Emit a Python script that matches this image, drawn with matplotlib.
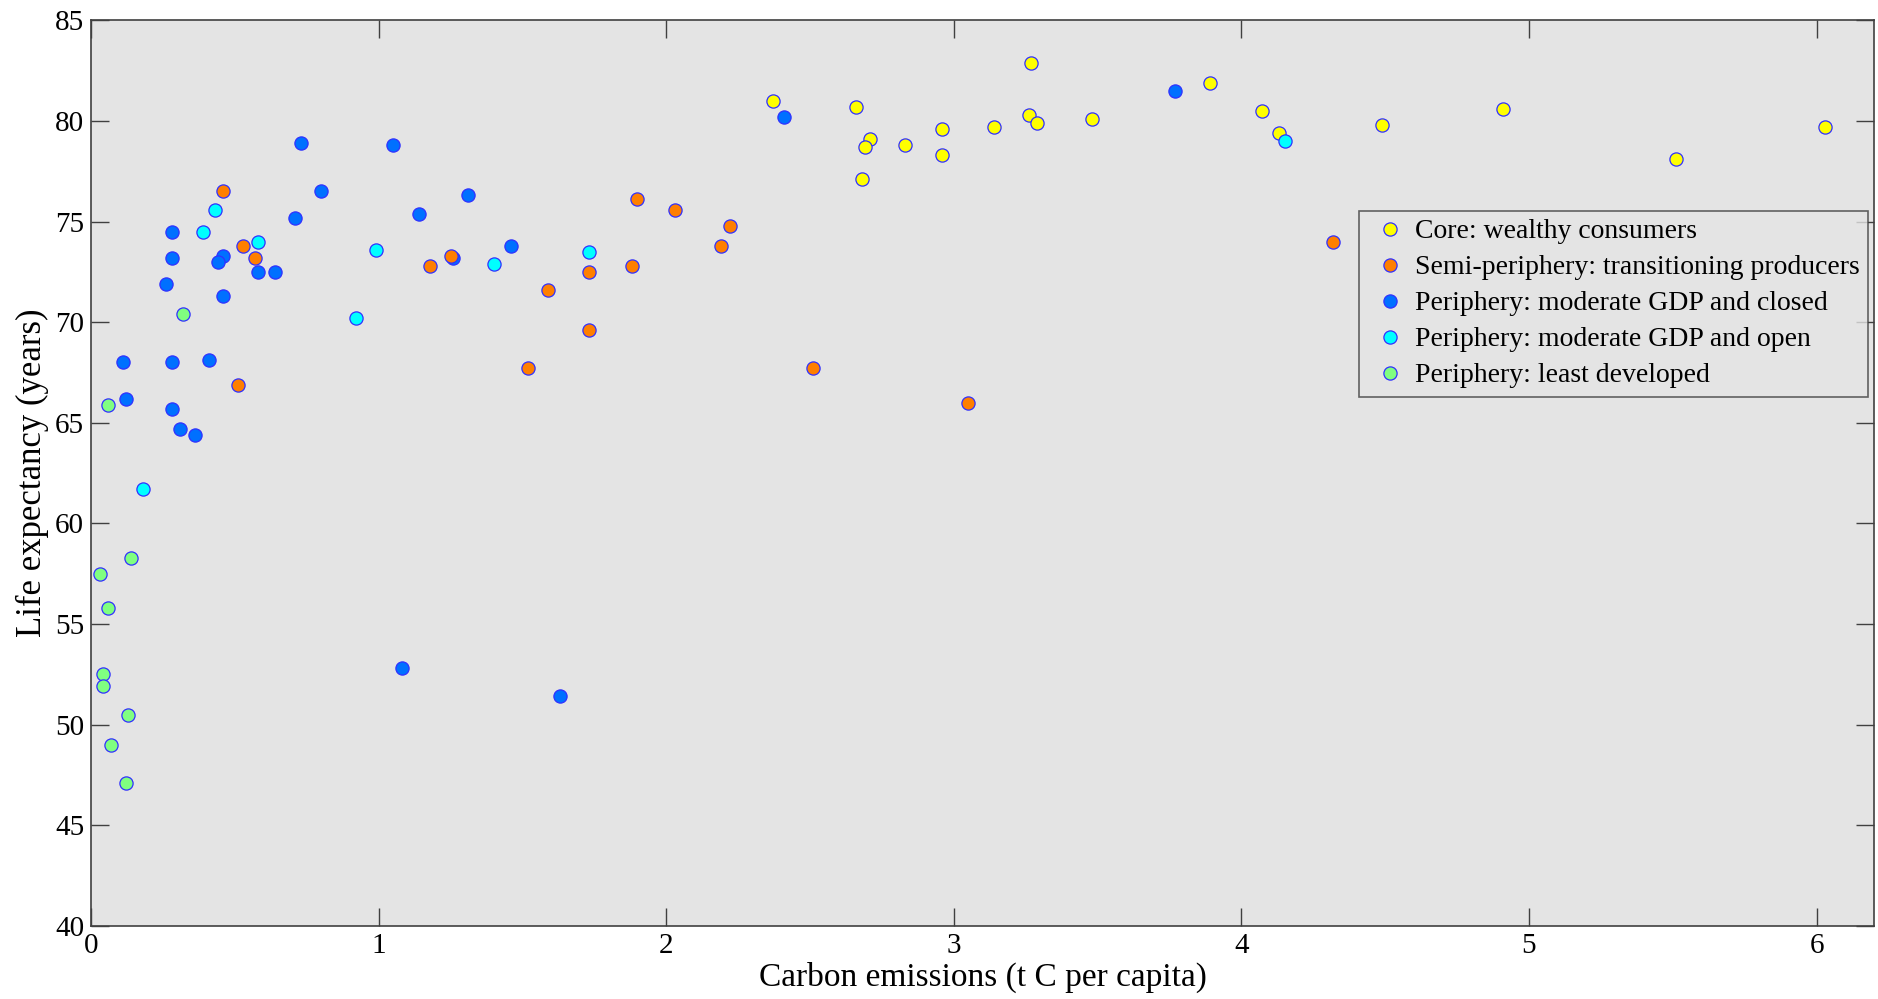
import matplotlib
matplotlib.use("Agg")
import matplotlib.pyplot as plt

plt.rcParams['font.family'] = ['Liberation Serif', 'DejaVu Serif']

# carbon emissions (t C per capita) and life expectancy (years) per group
core_x = [2.37, 2.66, 2.71, 2.69, 2.68, 2.83, 2.96, 2.96, 3.14, 3.27,
          3.26, 3.29, 3.48, 3.89, 4.07, 4.13, 4.49, 4.91, 5.51, 6.03]
core_y = [81.0, 80.7, 79.1, 78.7, 77.1, 78.8, 79.6, 78.3, 79.7, 82.9,
          80.3, 79.9, 80.1, 81.9, 80.5, 79.4, 79.8, 80.6, 78.1, 79.7]

semi_x = [0.46, 0.53, 0.57, 0.51, 1.18, 1.25, 1.59, 1.52, 1.90, 2.03,
          2.22, 2.19, 1.73, 1.88, 1.73, 2.51, 3.05, 4.32]
semi_y = [76.5, 73.8, 73.2, 66.9, 72.8, 73.3, 71.6, 67.7, 76.1, 75.6,
          74.8, 73.8, 72.5, 72.8, 69.6, 67.7, 66.0, 74.0]

closed_x = [0.73, 1.05, 0.80, 0.71, 1.14, 1.31, 0.28, 0.28, 0.46, 0.44,
            0.58, 0.64, 0.26, 0.46, 1.46, 1.26, 0.11, 0.28, 0.41, 0.12,
            0.28, 0.31, 0.36, 1.08, 1.63, 2.41, 3.77]
closed_y = [78.9, 78.8, 76.5, 75.2, 75.4, 76.3, 74.5, 73.2, 73.3, 73.0,
            72.5, 72.5, 71.9, 71.3, 73.8, 73.2, 68.0, 68.0, 68.1, 66.2,
            65.7, 64.7, 64.4, 52.8, 51.4, 80.2, 81.5]

open_x = [0.43, 0.39, 0.58, 0.99, 1.40, 0.92, 0.18, 1.73, 4.15]
open_y = [75.6, 74.5, 74.0, 73.6, 72.9, 70.2, 61.7, 73.5, 79.0]

least_x = [0.32, 0.06, 0.14, 0.03, 0.06, 0.04, 0.04, 0.13, 0.07, 0.12]
least_y = [70.4, 65.9, 58.3, 57.5, 55.8, 52.5, 51.9, 50.5, 49.0, 47.1]

labels = ['Core: wealthy consumers',
          'Semi-periphery: transitioning producers',
          'Periphery: moderate GDP and closed',
          'Periphery: moderate GDP and open',
          'Periphery: least developed']
colors = ['#ffff00', '#ff7f00', '#0070ff', '#00ffff', '#80ff80']
# stacking order where points overlap (legend order stays as listed)
zorders = [2.0, 2.2, 2.1, 2.3, 2.4]

groups = [(core_x, core_y), (semi_x, semi_y), (closed_x, closed_y),
          (open_x, open_y), (least_x, least_y)]

fig = plt.figure(figsize=(18.78, 9.99), dpi=100)
ax = fig.add_axes([0.0485, 0.0732, 0.9494, 0.9064])
ax.set_facecolor('#e4e4e4')

for (x, y), c, lab, z in zip(groups, colors, labels, zorders):
    ax.plot(x, y, 'o', ms=9.5, mfc=c, mec='#3030ff', mew=0.9, label=lab,
            zorder=z)

ax.set_xlim(0, 6.2)
ax.set_ylim(40, 85)
ax.set_xticks(range(0, 7))
ax.set_yticks(range(40, 86, 5))

for s in ax.spines.values():
    s.set_color('#404040')
    s.set_linewidth(1.2)
ax.tick_params(direction='in', length=13, width=1, color='#404040',
               top=True, right=True, labelsize=21, pad=5)

ax.set_xlabel('Carbon emissions (t C per capita)', fontsize=24, labelpad=2)
ax.set_ylabel('Life expectancy (years)', fontsize=25, labelpad=4)

leg = ax.legend(loc='upper right', bbox_to_anchor=(0.9965, 0.79),
                fontsize=20, frameon=True, fancybox=False,
                handletextpad=0.1, borderpad=0.3, labelspacing=0.38,
                handlelength=1.6, borderaxespad=0)
leg.get_frame().set_edgecolor('#404040')
leg.get_frame().set_facecolor('#e4e4e4')
leg.get_frame().set_linewidth(1.2)

fig.savefig('out.png', dpi=100)
